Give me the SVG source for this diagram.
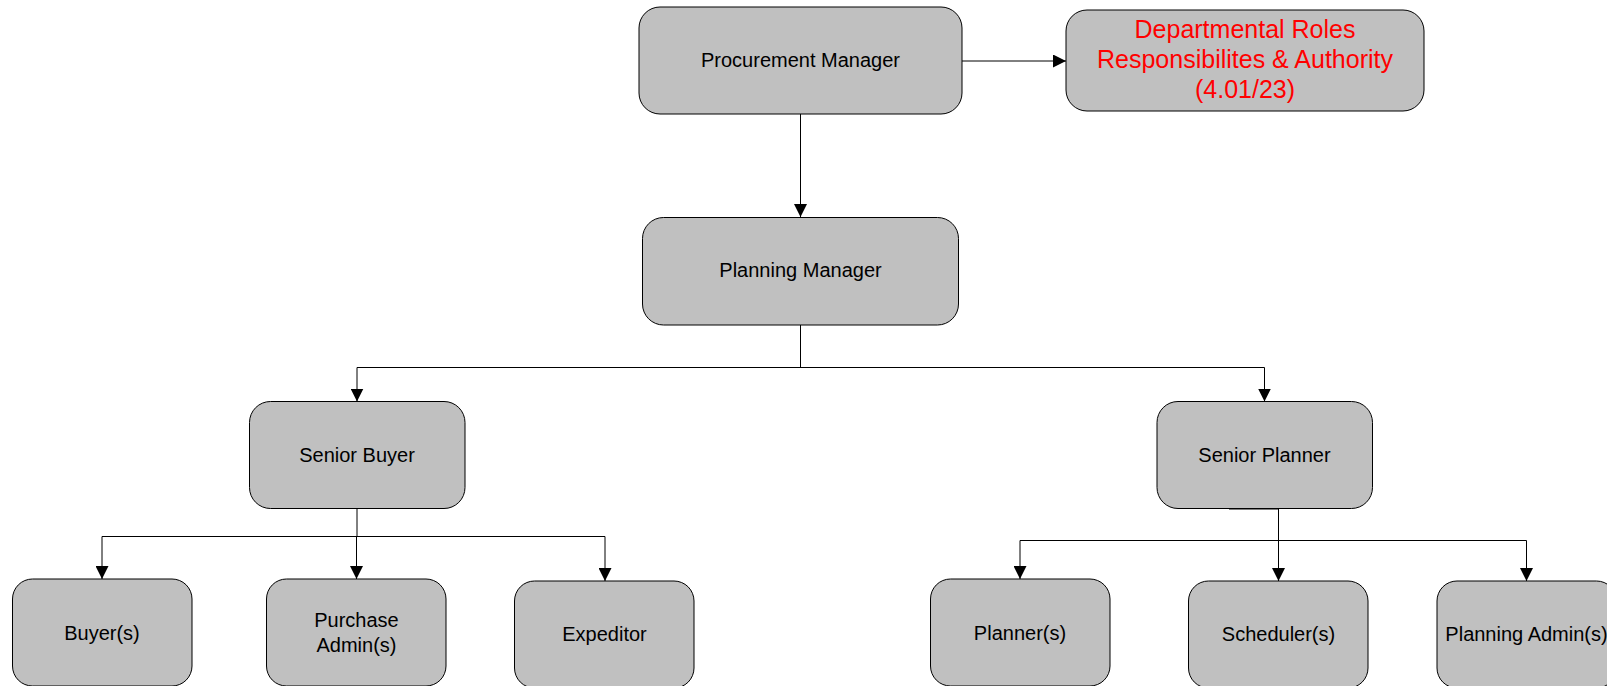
<svg xmlns="http://www.w3.org/2000/svg" width="1607" height="686" viewBox="0 0 1607 686">
<style>
.box{fill:#c0c0c0;stroke:#000;stroke-width:1}
.t{font-family:"Liberation Sans",Arial,sans-serif;font-size:20px;fill:#000;text-anchor:middle}
.r{font-family:"Liberation Sans",Arial,sans-serif;font-size:25px;fill:#ff0000;text-anchor:middle}
.c{fill:none;stroke:#000;stroke-width:1}
.a{marker-end:url(#arr)}
</style>
<defs>
<marker id="arr" markerUnits="userSpaceOnUse" markerWidth="13" markerHeight="13" refX="13" refY="6.5" orient="auto">
<path d="M0,0 L13,6.5 L0,13 z" fill="#000"/>
</marker>
</defs>
<rect width="1607" height="686" fill="#fff"/>
<g id="connectors">
<path class="c a" d="M962,61 H1066"/>
<path class="c a" d="M800.5,114 V217"/>
<path class="c" d="M800.5,325 V367.5 M357,367.5 H1264.5"/>
<path class="c a" d="M357,367.5 V401.5"/>
<path class="c a" d="M1264.5,367.5 V401.5"/>
<path class="c" d="M357,509 V536.5 M102,536.5 H605"/>
<path class="c a" d="M102,536.5 V579"/>
<path class="c a" d="M356.5,536.5 V579"/>
<path class="c a" d="M605,536.5 V581"/>
<path class="c" d="M1278.5,509 V540.5 M1020,540.5 H1526.5"/>
<path class="c" d="M1229,509 H1278.5" stroke-width="2"/>
<path class="c a" d="M1020,540.5 V579"/>
<path class="c a" d="M1278.5,540.5 V581"/>
<path class="c a" d="M1526.5,540.5 V581"/>
</g>
<g id="procurement-manager">
<rect class="box" x="639" y="7" width="323" height="107" rx="21"/>
<text class="t" x="800.5" y="67">Procurement Manager</text>
</g>
<g id="departmental-roles">
<rect class="box" x="1066" y="10" width="358" height="101" rx="21"/>
<text class="r" x="1245" y="38">Departmental Roles</text>
<text class="r" x="1245" y="68">Responsibilites &amp; Authority</text>
<text class="r" x="1245" y="98">(4.01/23)</text>
</g>
<g id="planning-manager">
<rect class="box" x="642.5" y="217.5" width="316" height="107.5" rx="21"/>
<text class="t" x="800.5" y="277">Planning Manager</text>
</g>
<g id="senior-buyer">
<rect class="box" x="249.5" y="401.5" width="215.5" height="107" rx="21"/>
<text class="t" x="357" y="462">Senior Buyer</text>
</g>
<g id="senior-planner">
<rect class="box" x="1157" y="401.5" width="215.5" height="107" rx="21"/>
<text class="t" x="1264.5" y="462">Senior Planner</text>
</g>
<g id="buyers">
<rect class="box" x="12.5" y="579" width="179.5" height="107" rx="20"/>
<text class="t" x="102" y="640">Buyer(s)</text>
</g>
<g id="purchase-admins">
<rect class="box" x="266.5" y="579" width="179.5" height="107" rx="20"/>
<text class="t" x="356.5" y="627">Purchase</text>
<text class="t" x="356.5" y="652">Admin(s)</text>
</g>
<g id="expeditor">
<rect class="box" x="514.5" y="581" width="179.5" height="107" rx="20"/>
<text class="t" x="604.5" y="641">Expeditor</text>
</g>
<g id="planners">
<rect class="box" x="930.5" y="579" width="179.5" height="107" rx="20"/>
<text class="t" x="1020" y="640">Planner(s)</text>
</g>
<g id="schedulers">
<rect class="box" x="1188.5" y="581" width="179.5" height="107" rx="20"/>
<text class="t" x="1278.5" y="641">Scheduler(s)</text>
</g>
<g id="planning-admins">
<rect class="box" x="1437" y="581" width="179.5" height="107" rx="20"/>
<text class="t" x="1526.5" y="641">Planning Admin(s)</text>
</g>
</svg>
